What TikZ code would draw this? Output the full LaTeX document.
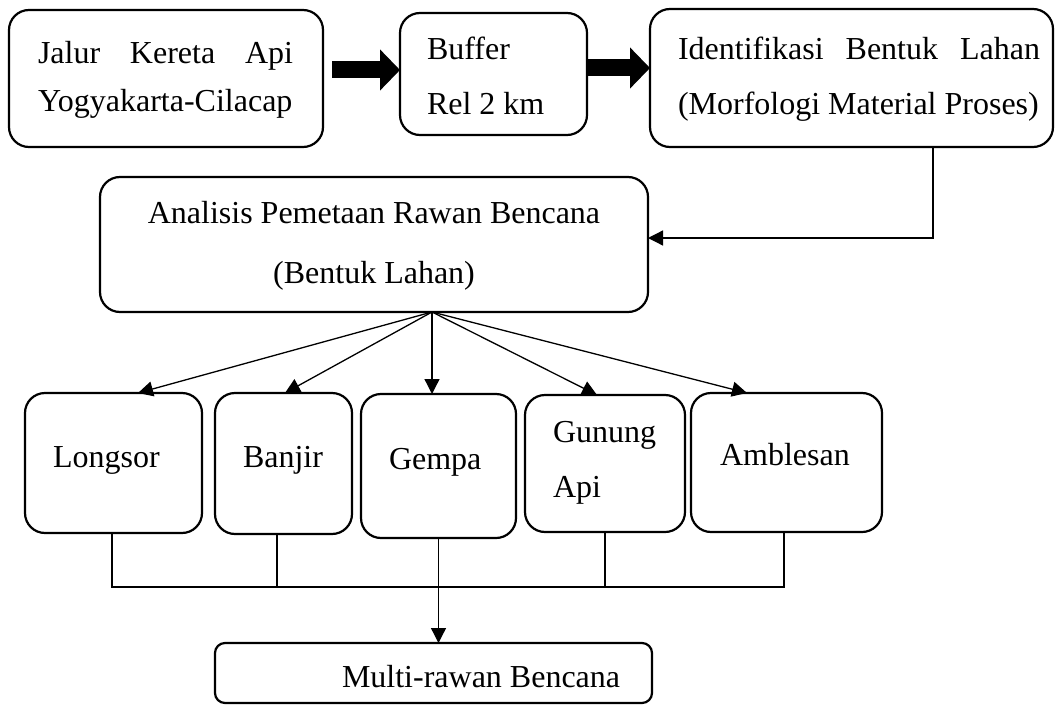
\documentclass[tikz,border=0pt]{standalone}
\usepackage{fontspec}
\setmainfont{Liberation Serif}
\usetikzlibrary{arrows.meta,calc}
\begin{document}
\begin{tikzpicture}[x=1pt,y=-1pt,
  box/.style={draw, line width=2.2pt, rounded corners=20pt, inner sep=0pt, outer sep=0pt},
  lbl/.style={font=\fontsize{32}{38}\selectfont, inner sep=0pt, outer sep=0pt, anchor=base west},
  clbl/.style={font=\fontsize{32}{38}\selectfont, inner sep=0pt, outer sep=0pt, anchor=base},
  conn/.style={line width=1.3pt},
  arr/.style={conn, -{Triangle[length=15pt,width=15pt]}},
  fat/.style={line width=17pt, -{Triangle[length=20pt,width=40pt]}}]
\useasboundingbox (0,0) rectangle (1062,706);

% boxes
\node[box, minimum width=314pt, minimum height=137pt] (jalur) at (166,78.5) {};
\node[box, minimum width=187pt, minimum height=122pt] (buf) at (493.5,74) {};
\node[box, minimum width=403pt, minimum height=138pt] (ident) at (851.5,78) {};
\node[box, minimum width=548pt, minimum height=135pt] (ana) at (374,244.5) {};
\node[box, minimum width=177pt, minimum height=140pt] (longsor) at (113.5,463) {};
\node[box, minimum width=137pt, minimum height=141pt] (banjir) at (283.5,463.5) {};
\node[box, minimum width=155pt, minimum height=144pt] (gempa) at (438.5,466) {};
\node[box, minimum width=160pt, minimum height=137pt] (gunung) at (605,463.5) {};
\node[box, minimum width=191pt, minimum height=139pt] (amb) at (786.5,462.5) {};
\node[box, rounded corners=10pt, minimum width=437pt, minimum height=60pt] (multi) at (433.5,673) {};

% labels
\node[lbl] (tj1) at (38,64) {\makebox[255pt][s]{Jalur Kereta Api}};
\node[lbl] (tj2) at (38,112) {Yogyakarta-Cilacap};
\node[lbl] (tb1) at (427,60) {Buffer};
\node[lbl] (tb2) at (427,115) {Rel 2 km};
\node[lbl] (ti1) at (678,60) {\makebox[362pt][s]{Identifikasi Bentuk Lahan}};
\node[lbl] (ti2) at (678,115) {(Morfologi Material Proses)};
\node[clbl] (ta1) at (374,223) {Analisis Pemetaan Rawan Bencana};
\node[clbl] (ta2) at (374,283) {(Bentuk Lahan)};
\node[lbl] (tl) at (53,467) {Longsor};
\node[lbl] (tbj) at (243,467) {Banjir};
\node[lbl] (tg) at (389,469) {Gempa};
\node[lbl] (tgu1) at (553,442) {Gunung};
\node[lbl] (tgu2) at (553,497) {Api};
\node[lbl] (tam) at (720,465) {Amblesan};
\node[lbl] (tm) at (342,687) {Multi-rawan Bencana};

% thick arrows
\coordinate (f1) at (0,70);
\coordinate (f2) at (0,68);
\draw[fat] ([xshift=9pt]jalur.east |- f1) -- (buf.west |- f1);
\draw[fat] ([xshift=1pt]buf.east |- f2) -- (ident.west |- f2);

% elbow connector
\coordinate (e1) at (933,238);
\draw[arr] (ident.south -| e1) -- (e1) -- (ana.east |- e1);

% fan
\coordinate (o) at ([xshift=58pt]ana.south);
\draw[arr] (o) -- ([xshift=24.5pt]longsor.north);
\draw[arr] (o) -- ([xshift=1.5pt]banjir.north);
\draw[arr] (o) -- (o |- gempa.north);
\draw[arr] (o) -- ([xshift=-8pt]gunung.north);
\draw[arr] (o) -- ([xshift=-39.5pt]amb.north);

% bus
\coordinate (bus) at (0,587);
\draw[conn] ([xshift=-1.5pt]longsor.south) -- ([xshift=-1.5pt]longsor.south |- bus) -- ([xshift=-2.5pt]amb.south |- bus) -- ([xshift=-2.5pt]amb.south);
\draw[conn] ([xshift=-6.5pt]banjir.south) -- ([xshift=-6.5pt]banjir.south |- bus);
\draw[conn] (gunung.south) -- (gunung.south |- bus);
\draw[arr] (gempa.south) -- (multi.north -| gempa.south);
\end{tikzpicture}
\end{document}
